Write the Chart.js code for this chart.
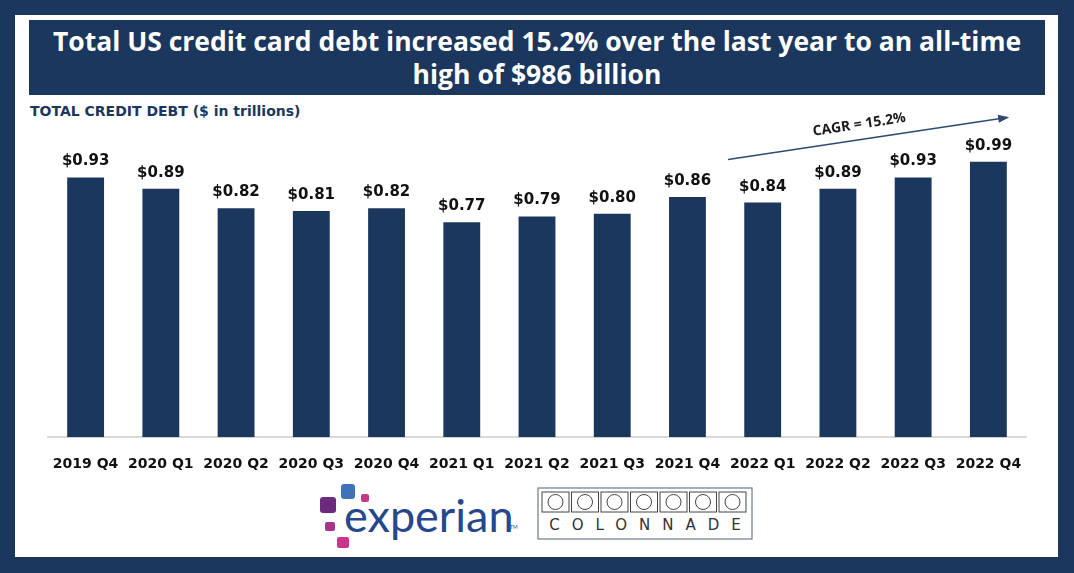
<!DOCTYPE html>
<html>
<head>
<meta charset="utf-8">
<script src="https://cdn.jsdelivr.net/npm/chart.js@4/dist/chart.umd.min.js"></script>
<style>
  body { margin: 0; background: #1c375e; width: 1074px; height: 573px; overflow: hidden; position: relative; }
  .panel { position: absolute; left: 15px; top: 15px; width: 1043px; height: 542px; background: #fff; }
  .title { position: absolute; left: 29px; top: 20px; width: 1016px; height: 75px; background: #1c375e; color: #fff;
           font-family: "Open Sans", sans-serif; font-weight: 700; font-size: 26.5px; line-height: 33px; text-align: center;
           padding-top: 5px; box-sizing: border-box; }
  .sub { position: absolute; left: 30px; top: 103px; color: #1c375e; font-family: "DejaVu Sans", sans-serif; font-weight: 700; font-size: 14px; }
  #chart { position: absolute; left: 0; top: 0; }
  .logo { position: absolute; }
</style>
</head>
<body>
<div class="panel"></div>
<div class="title">Total US credit card debt increased 15.2% over the last year to an all-time<br>high of $986 billion</div>
<div class="sub">TOTAL CREDIT DEBT ($ in trillions)</div>

<svg class="logo" style="left:318px;top:482px" width="200" height="70">
  <rect x="2" y="15" width="16" height="16" rx="3" fill="#6b2a7c"/>
  <rect x="23" y="2" width="14" height="15" rx="3" fill="#3f72b8"/>
  <rect x="43" y="12" width="8" height="8" rx="2" fill="#c23a85"/>
  <rect x="7" y="40" width="10" height="9" rx="2" fill="#a8348a"/>
  <rect x="19" y="55" width="12" height="11" rx="2" fill="#c8358a"/>
  <text x="26" y="50" font-family="Lato, sans-serif" font-size="45" fill="#26478d">experian</text>
  <text x="192" y="47" font-family="Lato, sans-serif" font-size="5" fill="#26478d">TM</text>
</svg>
<svg class="logo" id="colonnade" style="left:537px;top:487px" width="218" height="54"></svg>

<canvas id="chart" width="1074" height="573"></canvas>

<script>
var categories = ['2019 Q4', '2020 Q1', '2020 Q2', '2020 Q3', '2020 Q4', '2021 Q1', '2021 Q2',
                  '2021 Q3', '2021 Q4', '2022 Q1', '2022 Q2', '2022 Q3', '2022 Q4'];
var debt = [0.93, 0.89, 0.82, 0.81, 0.82, 0.77, 0.79, 0.80, 0.86, 0.84, 0.89, 0.93, 0.986];
var debtLabels = ['$0.93', '$0.89', '$0.82', '$0.81', '$0.82', '$0.77', '$0.79', '$0.80',
                  '$0.86', '$0.84', '$0.89', '$0.93', '$0.99'];
var cagrText = 'CAGR = 15.2%';

// colonnade logo boxes
(function () {
    var svg = document.getElementById('colonnade');
    var s = '<rect x="1" y="1" width="214" height="51" fill="none" stroke="#6d7a8c" stroke-width="1.2"/>';
    for (var i = 0; i < 7; i++) {
        var x = 5 + i * 29.5;
        s += '<rect x="' + x + '" y="5" width="27" height="20" fill="none" stroke="#444" stroke-width="1"/>';
        s += '<circle cx="' + (x + 13.5) + '" cy="15" r="7.5" fill="none" stroke="#444" stroke-width="1"/>';
    }
    s += '<text x="114" y="43" text-anchor="middle" font-family="DejaVu Sans, sans-serif" font-size="15" letter-spacing="12" fill="#333">COLONNADE</text>';
    svg.innerHTML = s;
})();

var valueLabels = {
    id: 'valueLabels',
    afterDatasetsDraw: function (chart) {
        var ctx = chart.ctx;
        var meta = chart.getDatasetMeta(0);
        ctx.save();
        ctx.font = 'bold 15px "DejaVu Sans"';
        ctx.fillStyle = '#111';
        ctx.textAlign = 'center';
        ctx.textBaseline = 'middle';
        meta.data.forEach(function (bar, i) {
            ctx.fillText(debtLabels[i], bar.x, bar.y - 16);
        });

        // CAGR arrow
        var xs = chart.scales.x, ys = chart.scales.y;
        var x1 = xs.getPixelForValue(8) + 0.54 * (xs.getPixelForValue(9) - xs.getPixelForValue(8));
        var x2 = xs.getPixelForValue(12) + 0.25 * (xs.getPixelForValue(12) - xs.getPixelForValue(11));
        var y1 = ys.getPixelForValue(0.994), y2 = ys.getPixelForValue(1.145);
        ctx.strokeStyle = '#2c4a72';
        ctx.fillStyle = '#2c4a72';
        ctx.lineWidth = 1.5;
        ctx.beginPath();
        ctx.moveTo(x1, y1);
        ctx.lineTo(x2, y2);
        ctx.stroke();
        var a = Math.atan2(y2 - y1, x2 - x1);
        ctx.beginPath();
        ctx.moveTo(x2 + 2, y2 - 0.3);
        ctx.lineTo(x2 - 9 * Math.cos(a) + 4 * Math.sin(a), y2 - 9 * Math.sin(a) - 4 * Math.cos(a));
        ctx.lineTo(x2 - 9 * Math.cos(a) - 4 * Math.sin(a), y2 - 9 * Math.sin(a) + 4 * Math.cos(a));
        ctx.closePath();
        ctx.fill();
        ctx.translate(x1 + 0.47 * (x2 - x1), y1 + 0.47 * (y2 - y1) - 15);
        ctx.rotate(a);
        ctx.font = 'bold 14px "Open Sans"';
        ctx.fillStyle = '#1a1a1a';
        ctx.fillText(cagrText, 0, 0);
        ctx.restore();
    }
};

new Chart(document.getElementById('chart'), {
    type: 'bar',
    data: {
        labels: categories,
        datasets: [{
            data: debt,
            backgroundColor: '#1c375e',
            barPercentage: 0.49,
            categoryPercentage: 1
        }]
    },
    options: {
        responsive: false,
        animation: false,
        events: [],
        layout: { padding: { left: 48, right: 48, top: 130, bottom: 89 } },
        plugins: { legend: { display: false }, tooltip: { enabled: false } },
        scales: {
            x: {
                grid: { display: false },
                border: { display: true, color: '#d9d9d9', width: 2 },
                ticks: { padding: 11, color: '#111', font: { family: 'DejaVu Sans', weight: 'bold', size: 14 }, maxRotation: 0, autoSkip: false }
            },
            y: {
                display: false,
                min: 0,
                max: 1.1
            }
        }
    },
    plugins: [valueLabels]
});
</script>
</body>
</html>
